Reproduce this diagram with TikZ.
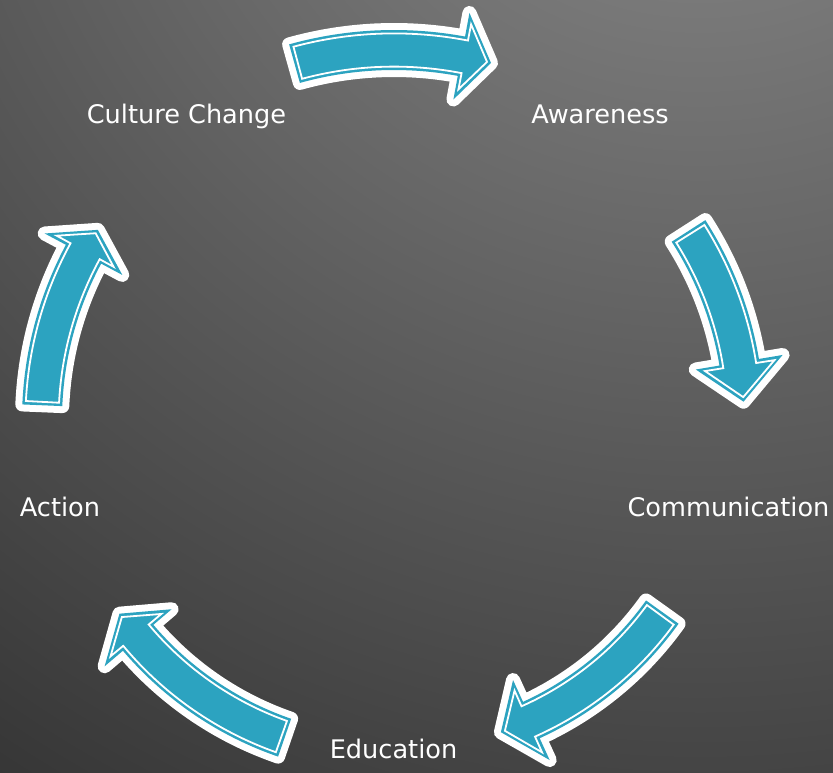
\documentclass[tikz,border=0pt]{standalone}
\usepackage{fontspec}
\setmainfont{DejaVu Sans}
\definecolor{bgin}{HTML}{8D8D8D}
\definecolor{bgout}{HTML}{353535}
\definecolor{arteal}{HTML}{2CA3C0}
\pgfdeclareradialshading{bgrad}{\pgfpoint{0bp}{0bp}}{color(0bp)=(bgin); color(25bp)=(bgout); color(50bp)=(bgout)}
\newcommand\arcx{394}
\newcommand\arcy{420}
\newcommand\arw{20}
\newcommand\arh{44}
\newcommand\arrowgeom[5]{%
 \pgfmathsetmacro\arR{#1}%
 \pgfmathsetmacro\arRo{#1+\arw-#5}%
 \pgfmathsetmacro\arRi{#1-\arw+#5}%
 \pgfmathsetmacro\ardd{#5/#1*180/pi}%
 \pgfmathsetmacro\araA{#2-\ardd}%
 \pgfmathsetmacro\araN{#3-\ardd}%
 \pgfmathsetmacro\arL{(#3-#4)*pi/180*#1}%
 \pgfmathsetmacro\arsa{sin(atan(\arh/\arL))}%
 \pgfmathsetmacro\araT{#4+(#5/\arsa)/#1*180/pi}%
 \pgfmathsetmacro\arH{\arh-(\arh/\arL)*(#5/\arsa+#5)}%
}
\newcommand\arrowshape{({\arcx+\arRo*cos(\araA)},{\arcy-\arRo*sin(\araA)})
 -- plot[domain=\araA:\araN,samples=40] ({\arcx+\arRo*cos(\x)},{\arcy-\arRo*sin(\x)})
 -- ({\arcx+(\arR+\arH)*cos(\araN)},{\arcy-(\arR+\arH)*sin(\araN)})
 -- ({\arcx+\arR*cos(\araT)},{\arcy-\arR*sin(\araT)})
 -- ({\arcx+(\arR-\arH)*cos(\araN)},{\arcy-(\arR-\arH)*sin(\araN)})
 -- ({\arcx+\arRi*cos(\araN)},{\arcy-\arRi*sin(\araN)})
 -- plot[domain=\araN:\araA,samples=40] ({\arcx+\arRi*cos(\x)},{\arcy-\arRi*sin(\x)})
 -- cycle}
\newcommand\cycarrow[4]{%
  \arrowgeom{#1}{#2}{#3}{#4}{0}%
  \fill[arrowrim] \arrowshape;
  \fill[arteal] \arrowshape;
  \arrowgeom{#1}{#2}{#3}{#4}{3.4}%
  \draw[arrowline] \arrowshape;
}
\tikzset{
  arrowrim/.style={fill=white, draw=white, line width=14pt, line join=round},
  arrowline/.style={draw=white, line width=1.8pt, line join=miter},
  lbl/.style={text=white, font=\fontsize{25.6}{29}\selectfont, inner sep=0pt, anchor=base}
}
\begin{document}
\begin{tikzpicture}[x=1pt,y=-1pt]
\useasboundingbox (0,0) rectangle (833,772);
\begin{scope}
\clip (0,0) rectangle (833,772);
\shade[shading=bgrad] (700,-300) circle (1300);
\end{scope}
\cycarrow{370}{105.6}{79.5}{74.8}
\cycarrow{350}{32.7}{9.5}{3.0}
\cycarrow{330}{-35.6}{-65.4}{-71.1}
\cycarrow{336}{251}{220.4}{215.2}
\cycarrow{352}{177.6}{151.9}{147.3}
\node[lbl] (aw) at (600,123) {Awareness};
\node[lbl] (co) at (728.5,516) {Communication};
\node[lbl] (ed) at (393.5,758) {Education};
\node[lbl] (ac) at (60,516) {Action};
\node[lbl] (cc) at (186.5,123) {Culture Change};
\end{tikzpicture}
\end{document}
